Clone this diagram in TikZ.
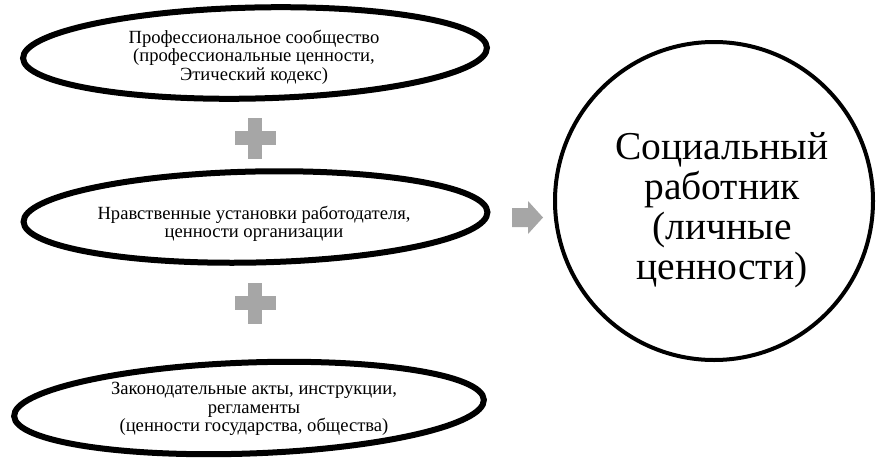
\documentclass[tikz,border=0pt]{standalone}
\usepackage{fontspec}
\setmainfont{Liberation Serif}
\usetikzlibrary{shapes.geometric}
\definecolor{plusgray}{RGB}{166,166,166}
\tikzset{
  oval/.style={ellipse, draw, line width=6pt, inner sep=0pt, minimum width=464pt, minimum height=91pt},
  ovaltext/.style={align=center, font=\fontsize{18.6}{18.5}\selectfont},
  worker/.style={circle, draw, line width=4pt, inner sep=0pt, minimum size=318pt},
  workertext/.style={align=center, font=\fontsize{39.5}{40}\selectfont}
}

\begin{document}
\begin{tikzpicture}[x=1pt,y=-1pt]
\useasboundingbox (0,0) rectangle (883,458);
% Ovals:
\node (prof) [oval, rotate=1.3] at (255,53) {};
\node (proftxt) [ovaltext] at (254,57) {Профессиональное сообщество\\(профессиональные ценности,\\Этический кодекс)};
\node (empl) [oval, rotate=1.2] at (255.5,217) {};
\node (empltxt) [ovaltext] at (254,224) {Нравственные установки работодателя,\\ценности организации};
\node (law) [oval, minimum width=470pt, rotate=2] at (249,408) {};
\node (lawtxt) [ovaltext] at (254,409) {Законодательные акты, инструкции,\\регламенты\\(ценности государства, общества)};
% Plus signs:
\foreach \y in {138,303} {
  \fill[plusgray] (234.5,\y-7) rectangle (275.5,\y+7);
  \fill[plusgray] (248,\y-20.5) rectangle (262,\y+20.5);
}
% Arrow:
\fill[plusgray] (512,208) -- (528,208) -- (528,201) -- (543,217.5) -- (528,234) -- (528,227) -- (512,227) -- cycle;
% Circle:
\node (sw) [worker] at (714,201) {};
\node (swtxt) [workertext] at (722,210) {Социальный\\работник\\(личные\\ценности)};
\end{tikzpicture}
\end{document}
